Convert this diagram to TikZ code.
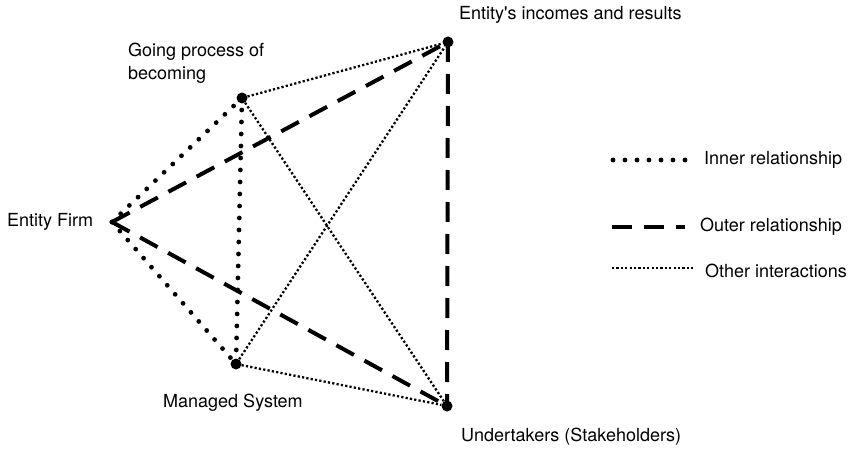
\documentclass[tikz,border=0pt]{standalone}
\usepackage{fontspec}
\setmainfont{TeX Gyre Heros}
\usetikzlibrary{positioning}
\tikzset{
  vertex/.style={circle,fill=black,inner sep=0pt,minimum size=11pt},
  lbl/.style={font=\fontsize{18}{23}\selectfont,inner sep=0pt,anchor=west,align=left},
  inner rel/.style={line width=4.8pt,line cap=round,dash pattern=on 0pt off 12pt},
  outer rel/.style={line width=4pt,dash pattern=on 20pt off 12pt},
  other rel/.style={line width=2.3pt,dash pattern=on 2.2pt off 2.2pt}
}
\begin{document}
\begin{tikzpicture}[x=1pt,y=-1pt]
\useasboundingbox (0,0) rectangle (858,449);
% points
\coordinate (firm) at (112,222);
\node[vertex] (going) at (242,98) {};
\node[vertex] (incomes) at (448,42) {};
\node[vertex] (managed) at (236,364) {};
\node[vertex] (stake) at (447,406) {};

% labels
\node[lbl] (firm-l) at (7,222) {Entity Firm};
\node[lbl] (going-l) at (128,63) {Going process of\\becoming};
\node[lbl] (incomes-l) at (459,15) {Entity\textquotesingle s incomes and results};
\node[lbl] (managed-l) at (163,403) {Managed System};
\node[lbl] (stake-l) at (461,437) {Undertakers (Stakeholders)};

% inner relationship
\draw[inner rel] (firm) -- (going.center);
\draw[inner rel] (firm) -- (managed.center);
\draw[inner rel] (going.center) -- (managed.center);

% outer relationship
\draw[outer rel] (firm) -- (incomes.center);
\draw[outer rel] (firm) -- (stake.center);
\draw[outer rel] (incomes.center) -- (stake.center);

% other interactions
\draw[other rel] (going) -- (incomes);
\draw[other rel] (going) -- (stake);
\draw[other rel] (managed) -- (incomes);
\draw[other rel] (managed) -- (stake);

% legend
\coordinate (leg1a) at (613,160);
\coordinate (leg1b) at (686,160);
\coordinate (leg2a) at (612,227);
\coordinate (leg2b) at (685,227);
\coordinate (leg3a) at (612,268);
\coordinate (leg3b) at (695,268);
\draw[inner rel] (leg1a) -- (leg1b);
\draw[outer rel] (leg2a) -- (leg2b);
\draw[other rel] (leg3a) -- (leg3b);
\node[lbl,right=18pt of leg1b] (leg1-l) {Inner relationship};
\node[lbl,right=15pt of leg2b] (leg2-l) {Outer relationship};
\node[lbl,right=10pt of leg3b,yshift=-3pt] (leg3-l) {Other interactions};
\end{tikzpicture}
\end{document}
